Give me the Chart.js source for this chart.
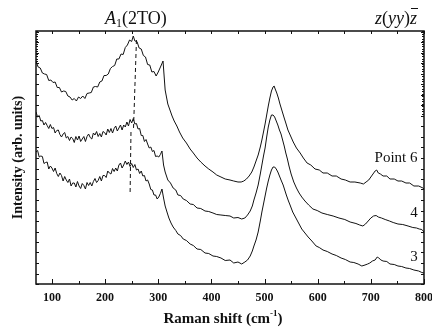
<!DOCTYPE html>
<html>
<head>
<meta charset="utf-8">
<script src="https://cdn.jsdelivr.net/npm/chart.js@4"></script>
<style>
  html, body { margin: 0; padding: 0; background: #fff; }
  canvas { display: block; }
</style>
</head>
<body>
<canvas id="raman" width="432" height="331"></canvas>
<script>
// ── Data ─────────────────────────────────────
const xTicks = [100, 200, 300, 400, 500, 600, 700, 800];

// Point 6 (top trace)
const point6X = [70,74,78,82,86,90,94,98,102,106,110,114,118,122,126,130,134,138,142,146,150,154,158,162,166,170,174,178,182,186,190,194,198,202,206,210,214,218,222,226,230,234,238,242,246,250,253,256,260,264,268,272,276,280,284,288,292,296,300,305,309,313,318,322,326,330,335,340,346,353,360,366,373,380,388,395,403,410,418,426,435,442,450,456,461,466,471,476,480,484,488,492,495,498,501,504,507,510,513,516,518,520,523,526,529,533,537,540,544,549,554,560,567,573,580,587,595,603,610,618,627,635,644,652,661,670,680,686,691,696,700,704,708,711,714,718,723,730,736,744,751,758,766,773,781,790,798,800];
const point6Y = [22.3,21.7,21.6,21.1,21.0,20.95,20.35,20.4,20.15,20.2,19.65,19.65,19.2,19.3,19.25,18.8,18.7,18.4,18.55,18.3,18.7,18.55,18.8,18.55,19.05,19.1,19.15,19.7,19.75,19.7,20.2,20.3,20.85,20.85,21.0,21.55,21.75,21.85,22.5,22.5,23.0,22.95,23.65,23.9,24.4,24.25,24.8,24.3,24.25,23.6,23.5,22.85,22.7,21.95,21.9,21.2,21.25,20.8,21.2,21.8,22.3,19.4,18.0,17.4,16.8,16.3,15.8,15.2,14.6,14.1,13.5,13.1,12.6,12.2,11.8,11.5,11.2,10.9,10.7,10.5,10.4,10.3,10.2,10.2,10.3,10.5,10.8,11.2,11.7,12.3,12.9,13.7,14.4,15.2,16.0,16.9,17.8,18.6,19.3,19.7,19.8,19.5,19.1,18.6,18.0,17.3,16.6,16.1,15.4,14.8,14.2,13.6,13.1,12.6,12.1,11.9,11.5,11.4,11.1,11.1,10.8,10.8,10.5,10.4,10.2,10.2,10.1,10.0,10.2,10.4,10.7,11.0,11.3,11.4,11.1,11.0,10.8,10.8,10.5,10.5,10.3,10.3,10.1,10.1,9.8,9.8,9.6,9.5];

// Point 4 (middle trace)
const point4X = [70,73,76,79,82,85,88,91,94,97,100,103,106,109,112,115,118,121,124,127,130,133,136,139,142,145,148,151,154,157,160,163,166,169,172,175,178,181,184,187,190,193,196,199,202,205,208,211,214,217,220,223,226,229,232,235,238,241,244,247,250,253,256,259,262,265,268,271,274,277,280,283,286,289,292,295,298,301,304,307,310,313,318,323,328,333,337,342,347,353,360,366,373,380,388,395,403,410,418,426,435,442,450,457,463,468,473,477,480,484,488,492,495,498,501,504,507,510,513,516,519,522,525,528,531,534,537,540,543,546,550,555,560,565,570,576,583,591,599,608,618,629,640,651,661,672,679,685,690,695,700,705,710,714,720,727,735,742,751,760,770,779,786,791,796,800];
const point4Y = [17.2,16.7,16.85,16.3,16.35,15.9,16.15,15.85,15.55,15.95,15.55,15.65,15.1,15.35,15.4,14.95,14.7,15.0,15.15,14.6,14.75,14.35,14.7,14.55,14.15,14.75,14.4,14.8,14.25,14.5,14.75,14.25,14.75,15.0,14.65,14.5,15.1,14.9,15.25,14.75,15.05,14.7,15.25,15.15,14.9,15.5,15.15,15.55,15.1,15.55,15.8,15.3,15.6,15.9,15.4,15.9,15.7,16.2,15.8,16.45,16.1,16.55,16.0,16.05,15.5,15.55,14.85,14.85,14.25,14.45,14.0,13.6,13.7,13.25,13.35,12.75,12.8,12.7,12.95,13.3,11.9,11.2,10.4,10.1,9.6,9.4,8.9,8.85,8.5,8.35,8.0,7.95,7.6,7.55,7.3,7.25,7.1,6.95,6.9,6.85,6.8,6.6,6.65,6.5,6.6,6.9,7.3,7.8,8.4,9.1,9.9,11.0,11.9,12.8,13.6,14.7,15.7,16.4,16.9,16.9,16.7,16.3,15.9,15.4,15.0,14.4,13.8,13.1,12.5,11.8,11.0,10.2,9.6,9.1,8.7,8.3,7.9,7.5,7.35,7.1,6.95,6.8,6.6,6.45,6.2,6.05,5.9,5.8,6.0,6.3,6.6,6.8,6.85,6.7,6.6,6.45,6.3,6.15,6.0,5.95,5.8,5.65,5.6,5.5,5.45,5.2];

// Point 3 (bottom trace)
const point3X = [70,73,76,79,82,85,88,91,94,97,100,103,106,109,112,115,118,121,124,127,130,133,136,139,142,145,148,151,154,157,160,163,166,169,172,175,178,181,184,187,190,193,196,199,202,205,208,211,214,217,220,223,226,229,232,235,238,241,244,247,250,253,256,259,262,265,268,271,274,277,280,283,286,289,292,295,298,301,304,307,310,313,317,320,324,328,333,337,342,347,353,360,366,373,380,388,395,403,410,418,426,435,442,450,457,463,468,473,477,480,484,488,492,495,498,501,504,507,510,513,516,519,522,525,528,531,535,538,541,545,548,553,559,564,570,576,582,589,597,603,610,618,627,635,644,652,661,668,676,683,689,694,698,703,708,712,715,719,723,730,736,744,751,758,766,773,781,790,796,800];
const point3Y = [13.2,13.35,12.7,12.8,12.75,12.05,12.15,12.2,11.5,11.8,11.6,11.25,11.6,11.05,10.75,11.1,10.85,10.3,10.75,10.4,10.15,10.5,9.8,10.1,10.1,9.7,10.25,9.8,9.55,10.05,9.85,9.5,10.15,9.85,10.15,9.8,10.25,10.55,10.15,10.35,10.75,10.3,10.85,10.85,10.65,11.3,11.1,11.0,11.55,11.25,11.6,11.3,11.9,12.1,11.6,11.9,12.3,11.95,12.2,11.75,12.05,11.65,11.95,11.4,11.5,11.05,11.3,10.8,10.85,10.3,10.4,10.0,9.45,9.4,8.9,8.9,8.5,8.7,9.05,9.5,8.6,7.8,7.1,6.6,6.1,5.7,5.35,5.0,4.85,4.5,4.35,4.0,3.85,3.5,3.45,3.1,3.05,2.8,2.75,2.6,2.35,2.4,2.1,2.2,2.0,2.2,2.4,2.8,3.3,3.8,4.4,5.2,6.3,7.2,8.0,8.8,9.6,10.3,10.9,11.4,11.7,11.7,11.5,11.2,10.8,10.4,9.9,9.4,8.9,8.3,7.9,7.2,6.6,6.1,5.5,5.1,4.7,4.3,3.8,3.65,3.4,3.25,3.0,2.85,2.6,2.45,2.2,2.15,2.0,1.8,1.9,2.0,2.1,2.3,2.4,2.7,2.6,2.4,2.3,2.25,2.0,1.95,1.8,1.75,1.6,1.55,1.4,1.3,1.15,1.1];

// A1(2TO) guide lines
const guideUpperX = [259, 253.5];
const guideUpperY = [24.4, 15.6];
const guideLowerX = [248.7, 247];
const guideLowerY = [15.2, 8.9];

const Y_MAX = 25.3;
const Y_STEP = 1.05;

const SERIF = '"Liberation Serif", "DejaVu Serif", serif';
const INK = '#111';

function toPoints(xs, ys) {
  return xs.map((x, i) => ({ x, y: ys[i] }));
}

function trace(xs, ys) {
  return {
    data: toPoints(xs, ys),
    borderColor: INK,
    borderWidth: 1,
    pointRadius: 0,
    tension: 0,
  };
}

function guide(xs, ys) {
  return {
    data: toPoints(xs, ys),
    borderColor: INK,
    borderWidth: 1,
    borderDash: [4, 3],
    pointRadius: 0,
  };
}

// ── Frame, inward ticks and annotations ──────
const framePlugin = {
  id: 'frame',
  afterDraw(chart) {
    const { ctx, chartArea: a, scales: { x, y } } = chart;
    ctx.save();
    ctx.strokeStyle = INK;
    ctx.lineWidth = 1.5;
    ctx.strokeRect(a.left, a.top, a.right - a.left, a.bottom - a.top);

    ctx.lineWidth = 1;
    ctx.beginPath();
    // bottom: majors + minors, top: every 50
    for (let v = 100; v <= 800; v += 50) {
      const px = Math.round(x.getPixelForValue(v)) + 0.5;
      const len = v % 100 === 0 ? 5 : 3;
      ctx.moveTo(px, a.bottom); ctx.lineTo(px, a.bottom - len);
      ctx.moveTo(px, a.top); ctx.lineTo(px, a.top + 3);
    }
    // left / right
    for (let v = 0; v <= Y_MAX; v += Y_STEP) {
      const py = Math.round(y.getPixelForValue(v)) + 0.5;
      ctx.moveTo(a.left, py); ctx.lineTo(a.left + 3, py);
      ctx.moveTo(a.right, py); ctx.lineTo(a.right - 3, py);
    }
    // dense ticks near the top of both sides
    for (let v = 22.3; v <= Y_MAX; v += 0.25) {
      const py = Math.round(y.getPixelForValue(v)) + 0.5;
      ctx.moveTo(a.left, py); ctx.lineTo(a.left + 2, py);
    }
    for (let v = 16.8; v <= Y_MAX; v += 0.25) {
      const py = Math.round(y.getPixelForValue(v)) + 0.5;
      ctx.moveTo(a.right, py); ctx.lineTo(a.right - 2, py);
    }
    ctx.stroke();

    ctx.fillStyle = INK;
    ctx.textBaseline = 'alphabetic';

    // A1(2TO) header
    const aFont = 'italic 18px ' + SERIF;
    const subFont = '12px ' + SERIF;
    const restFont = '18px ' + SERIF;
    ctx.font = aFont; const wA = ctx.measureText('A').width;
    ctx.font = subFont; const w1 = ctx.measureText('1').width;
    ctx.font = restFont; const wR = ctx.measureText('(2TO)').width;
    let hx = x.getPixelForValue(258) - (wA + w1 + wR) / 2;
    const hy = 24;
    ctx.textAlign = 'left';
    ctx.font = aFont; ctx.fillText('A', hx, hy); hx += wA;
    ctx.font = subFont; ctx.fillText('1', hx, hy + 3); hx += w1;
    ctx.font = restFont; ctx.fillText('(2TO)', hx, hy);

    // z(yy)z-bar header
    const parts = [['z', true], ['(', false], ['yy', true], [')', false], ['z', true]];
    const widths = parts.map(([t, it]) => {
      ctx.font = (it ? 'italic ' : '') + '18px ' + SERIF;
      return ctx.measureText(t).width;
    });
    let zx = 417 - widths.reduce((s, w) => s + w, 0);
    let barStart = 0;
    parts.forEach(([t, it], i) => {
      ctx.font = (it ? 'italic ' : '') + '18px ' + SERIF;
      ctx.fillText(t, zx, hy);
      if (i === parts.length - 1) barStart = zx;
      zx += widths[i];
    });
    ctx.beginPath();
    ctx.moveTo(barStart + 1, 8.5);
    ctx.lineTo(zx + 1, 8.5);
    ctx.stroke();

    // trace labels
    ctx.font = '15px ' + SERIF;
    ctx.textAlign = 'center';
    ctx.fillText('Point 6', 396, 162);
    ctx.fillText('4', 414, 217);
    ctx.fillText('3', 414, 261);

    // x title with superscript
    const tFont = 'bold 15px ' + SERIF;
    const supFont = 'bold 9px ' + SERIF;
    ctx.font = tFont; const wMain = ctx.measureText('Raman shift (cm').width;
    const wClose = ctx.measureText(')').width;
    ctx.font = supFont; const wSup = ctx.measureText('-1').width;
    let tx = 223 - (wMain + wSup + wClose) / 2;
    const ty = 323;
    ctx.textAlign = 'left';
    ctx.font = tFont; ctx.fillText('Raman shift (cm', tx, ty); tx += wMain;
    ctx.font = supFont; ctx.fillText('-1', tx, ty - 7); tx += wSup;
    ctx.font = tFont; ctx.fillText(')', tx, ty);

    // y title
    ctx.translate(22, (a.top + a.bottom) / 2);
    ctx.rotate(-Math.PI / 2);
    ctx.textAlign = 'center';
    ctx.font = 'bold 14px ' + SERIF;
    ctx.fillText('Intensity (arb. units)', 0, 0);
    ctx.restore();
  }
};

new Chart(document.getElementById('raman'), {
  type: 'line',
  data: {
    datasets: [
      trace(point6X, point6Y),
      trace(point4X, point4Y),
      trace(point3X, point3Y),
      guide(guideUpperX, guideUpperY),
      guide(guideLowerX, guideLowerY),
    ]
  },
  options: {
    responsive: false,
    animation: false,
    devicePixelRatio: 1,
    layout: { padding: { top: 31, right: 8, left: 0, bottom: 0 } },
    plugins: {
      legend: { display: false },
      tooltip: { enabled: false },
    },
    scales: {
      x: {
        type: 'linear',
        min: 70, max: 800,
        grid: { display: false, drawTicks: false },
        border: { display: false },
        afterBuildTicks: s => { s.ticks = xTicks.map(v => ({ value: v })); },
        afterFit: s => { s.height = 47; s.paddingLeft = 0; s.paddingRight = 0; },
        ticks: {
          color: INK,
          padding: 7,
          maxRotation: 0,
          font: { family: SERIF, size: 12, weight: 'bold' },
        },
      },
      y: {
        min: 0, max: Y_MAX,
        grid: { display: false, drawTicks: false },
        border: { display: false },
        ticks: { display: false },
        afterFit: s => { s.width = 36; },
      },
    },
  },
  plugins: [framePlugin],
});
</script>
</body>
</html>
